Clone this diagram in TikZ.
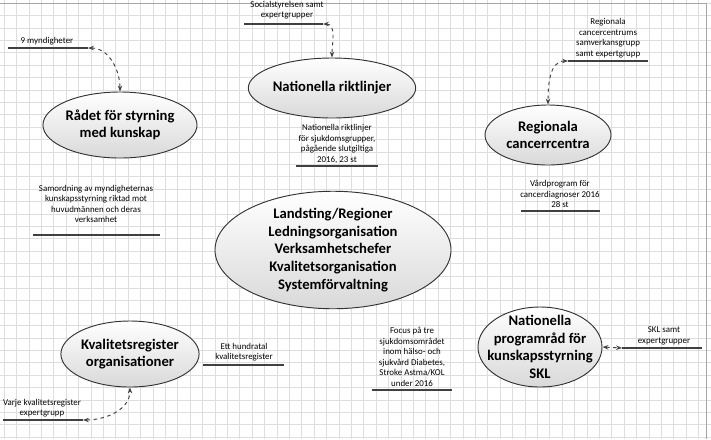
\documentclass[tikz,border=0pt]{standalone}
\usepackage{fontspec}
\setmainfont{Carlito}
\usetikzlibrary{shapes.geometric, arrows.meta, positioning, calc}

\tikzset{
  org/.style={ellipse, draw=black!80, thick, top color=white, bottom color=black!15, align=center, font=\fontsize{12.5}{15}\selectfont\bfseries, inner sep=0pt},
  note/.style={align=center, font=\fontsize{7.6}{9}\selectfont, inner sep=0pt},
  bar/.style={line width=2.2pt, black!75},
  link/.style={dashed, thick, black!75, {Stealth[length=5pt]}-{Stealth[length=5pt]}},
  gridline/.style={black!13, line width=0.4pt}
}

\begin{document}
\begin{tikzpicture}[x=0.03cm, y=-0.03cm]
\useasboundingbox (0,0) rectangle (711,439);
\fill[white] (0,0) rectangle (711,439);

% Background grid
\foreach \i in {0,...,57} {
  \draw[gridline] ({4+12.4*\i},0) -- ({4+12.4*\i},439);
}
\foreach \j in {0,...,35} {
  \draw[gridline] (0,{3+12.4*\j}) -- (711,{3+12.4*\j});
}
\draw[black!35] (0,3) -- (706,3) -- (706,439);

% Ellipses
\node[org, minimum width=3.78cm, minimum height=1.98cm] (rad) at (120,125) {Rådet för styrning\\med kunskap};
\node[org, minimum width=3.6cm, minimum height=1.8cm] (nrl) at (332,88) {Nationella riktlinjer};
\node[org, minimum width=3.78cm, minimum height=1.8cm] (rcc) at (548,135) {Regionala\\cancerrcentra};
\node[org, minimum width=7.08cm, minimum height=3.42cm] (lt) at (333,250) {Landsting/Regioner\\Ledningsorganisation\\Verksamhetschefer\\Kvalitetsorganisation\\Systemförvaltning};
\node[org, minimum width=3.78cm, minimum height=1.98cm] (kvr) at (130,354) {Kvalitetsregister\\organisationer};
\node[org, minimum width=3.72cm, minimum height=2.4cm] (npr) at (540,347) {};
\node[font=\fontsize{12.5}{15}\selectfont\bfseries, align=center] (nprtext) at (540,347) {Nationella\\programråd för\\kunskapsstyrning\\SKL};

% Notes with bars
\node[note] (n1) at (47,41) {9 myndigheter};
\coordinate (b1l) at (8,48); \coordinate (b1r) at (88,48);
\node[note] (n2) at (287,10) {Socialstyrelsen samt\\expertgrupper};
\coordinate (b2l) at (244,24); \coordinate (b2r) at (323,24);
\node[note] (n3) at (337,144) {Nationella riktlinjer\\för sjukdomsgrupper,\\pågående slutgiltiga\\2016, 23 st};
\coordinate (b3l) at (296,166); \coordinate (b3r) at (378,166);
\node[note] (n4) at (608,38) {Regionala\\cancercentrums\\samverkansgrupp\\samt expertgrupp};
\coordinate (b4l) at (568,61); \coordinate (b4r) at (648,61);
\node[note] (n5) at (560,194) {Vårdprogram för\\cancerdiagnoser 2016\\28 st};
\coordinate (b5l) at (521,211); \coordinate (b5r) at (600,211);
\node[note] (n6) at (96,204) {Samordning av myndigheternas\\kunskapsstyrning riktad mot\\huvudmännen och deras\\verksamhet};
\coordinate (b6l) at (33,235); \coordinate (b6r) at (160,235);
\node[note] (n7) at (244,352) {Ett hundratal\\kvalitetsregister};
\coordinate (b7l) at (203,365); \coordinate (b7r) at (284,365);
\node[note] (n8) at (42,408) {Varje kvalitetsregister\\expertgrupp};
\coordinate (b8l) at (3,420); \coordinate (b8r) at (83,420);
\node[note] (n9) at (412,357) {Focus på tre\\sjukdomsområdet\\inom hälso- och\\sjukvård Diabetes,\\Stroke Astma/KOL\\under 2016};
\coordinate (b9l) at (372,390); \coordinate (b9r) at (452,390);
\node[note] (n10) at (664,336) {SKL samt\\expertgrupper};
\coordinate (b10l) at (622,348); \coordinate (b10r) at (702,348);

\foreach \b in {1,...,10} {
  \draw[bar] (b\b l) -- (b\b r);
}

% Connectors
\draw[link] (b1r) to[out=0, in=90] (rad.north);
\draw[link] (b2r) to[out=0, in=90] (nrl.north);
\draw[link] (b4l) to[out=180, in=90] (rcc.north);
\draw[link] (b8r) to[out=0, in=-90] (kvr.south);
\draw[link] (npr.east) -- (b10l);
\end{tikzpicture}
\end{document}
